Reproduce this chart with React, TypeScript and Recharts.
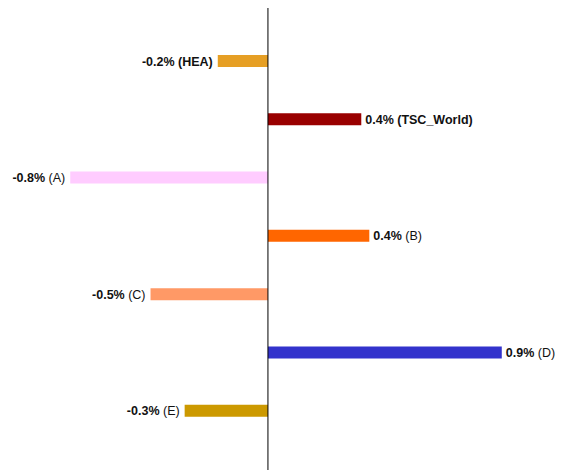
import { BarChart, Bar, XAxis, YAxis, Cell, LabelList, ReferenceLine } from "recharts";

const categories = ["HEA", "TSC_World", "A", "B", "C", "D", "E"];
const changes = [-0.2, 0.372, -0.788, 0.404, -0.468, 0.932, -0.332];
// names that are printed in bold next to their value
const benchmarks = ["HEA", "TSC_World"];

const barColors: Record<string, string> = {
  HEA: "#E69F24",
  TSC_World: "#990000",
  A: "#FFCCFF",
  B: "#FF6600",
  C: "#FF9966",
  D: "#3333CC",
  E: "#CC9900",
};

const data = categories.map((name, i) => ({ name, value: changes[i] }));

const BarLabel = (props: any) => {
  const { x, y, width, height, index } = props;
  const entry = data[index];
  const left = Math.min(x, x + width);
  const right = Math.max(x, x + width);
  const negative = entry.value < 0;
  const tx = negative ? left - 5 : right + 4;
  const bold = benchmarks.includes(entry.name);
  return (
    <text
      x={tx}
      y={y + height / 2}
      dy={4.5}
      textAnchor={negative ? "end" : "start"}
      fontFamily="'Liberation Sans', Arial, sans-serif"
      fontSize={12.5}
      fill="#111"
    >
      <tspan fontWeight="bold">{`${entry.value.toFixed(1)}%`}</tspan>
      <tspan fontWeight={bold ? "bold" : "normal"}>{` (${entry.name})`}</tspan>
    </text>
  );
};

export default function App() {
  return (
    <div>
      <style>{"body{margin:0;overflow:hidden}"}</style>
      <BarChart
        width={564}
        height={470}
        data={data}
        layout="vertical"
        margin={{ top: 8, right: 0, bottom: 0, left: 0 }}
      >
        <XAxis type="number" domain={[-1.068, 1.18]} allowDataOverflow hide />
        <YAxis type="category" dataKey="name" hide padding={{ top: 24, bottom: 30 }} />
        <ReferenceLine x={0} stroke="#000" strokeWidth={1} />
        <Bar dataKey="value" barSize={12} isAnimationActive={false}>
          {data.map((d) => (
            <Cell key={d.name} fill={barColors[d.name]} />
          ))}
          <LabelList dataKey="value" content={BarLabel} />
        </Bar>
      </BarChart>
    </div>
  );
}
